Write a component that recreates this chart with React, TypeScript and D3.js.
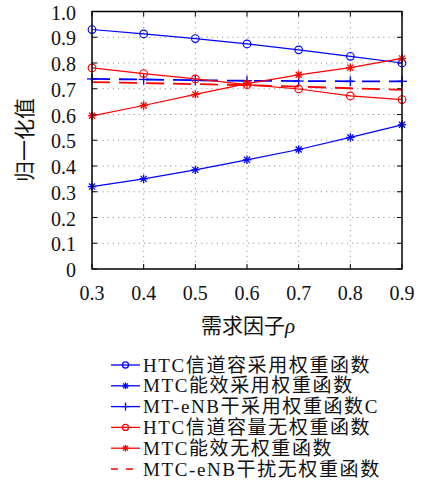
import React from "react";
import * as d3 from "d3";

const rho = [0.3, 0.4, 0.5, 0.6, 0.7, 0.8, 0.9];
const htcWeighted = [0.93, 0.913, 0.895, 0.874, 0.851, 0.826, 0.8];
const mtcWeighted = [0.32, 0.35, 0.385, 0.424, 0.464, 0.511, 0.56];
const enbWeighted = [0.738, 0.736, 0.733, 0.731, 0.73, 0.729, 0.729];
const htcNoWeight = [0.781, 0.759, 0.738, 0.716, 0.699, 0.672, 0.658];
const mtcNoWeight = [0.595, 0.635, 0.678, 0.72, 0.754, 0.782, 0.818];
const enbNoWeight = [0.726, 0.722, 0.718, 0.714, 0.708, 0.702, 0.696];

const xTicks = [0.3, 0.4, 0.5, 0.6, 0.7, 0.8, 0.9];
const yTicks = [0, 0.1, 0.2, 0.3, 0.4, 0.5, 0.6, 0.7, 0.8, 0.9, 1.0];
const yTickLabels = ["0", "0.1", "0.2", "0.3", "0.4", "0.5", "0.6", "0.7", "0.8", "0.9", "1.0"];

const legendLabels = [
  "HTC信道容采用权重函数",
  "MTC能效采用权重函数",
  "MT-eNB干采用权重函数C",
  "HTC信道容量无权重函数",
  "MTC能效无权重函数",
  "MTC-eNB干扰无权重函数",
];

const BLUE = "#0000ff";
const RED = "#ff0000";
const FONT = "'Liberation Serif', 'Noto Sans CJK SC', serif";

type Marker = "circle" | "star" | "plus" | "none";
interface Series {
  values: number[];
  color: string;
  marker: Marker;
  dashed: boolean;
}

const series: Series[] = [
  { values: htcWeighted, color: BLUE, marker: "circle", dashed: false },
  { values: mtcWeighted, color: BLUE, marker: "star", dashed: false },
  { values: enbWeighted, color: BLUE, marker: "plus", dashed: true },
  { values: htcNoWeight, color: RED, marker: "circle", dashed: false },
  { values: mtcNoWeight, color: RED, marker: "star", dashed: false },
  { values: enbNoWeight, color: RED, marker: "none", dashed: true },
];

function MarkerShape({ type, x, y, color, s = 1 }: { type: Marker; x: number; y: number; color: string; s?: number }) {
  if (type === "circle") {
    return <circle cx={x} cy={y} r={3.8 * s} fill="none" stroke={color} strokeWidth={1.2} />;
  }
  if (type === "star") {
    const r = 4.2 * s;
    const d = r * 0.72;
    return (
      <g stroke={color} strokeWidth={1.3}>
        <line x1={x - r} y1={y} x2={x + r} y2={y} />
        <line x1={x} y1={y - r} x2={x} y2={y + r} />
        <line x1={x - d} y1={y - d} x2={x + d} y2={y + d} />
        <line x1={x - d} y1={y + d} x2={x + d} y2={y - d} />
      </g>
    );
  }
  if (type === "plus") {
    const r = 5 * s;
    return (
      <g stroke={color} strokeWidth={1.3}>
        <line x1={x - r} y1={y} x2={x + r} y2={y} />
        <line x1={x} y1={y - r} x2={x} y2={y + r} />
      </g>
    );
  }
  return null;
}

export default function App() {
  const W = 422;
  const H = 484;
  const left = 92, right = 402, top = 11.5, bottom = 269;
  const x = d3.scaleLinear().domain([0.3, 0.9]).range([left, right]);
  const y = d3.scaleLinear().domain([0, 1]).range([bottom, top]);
  const line = d3
    .line<number>()
    .x((_, i) => x(rho[i]))
    .y((d) => y(d));

  const legendX0 = 111;
  const legendX1 = 140;
  const legendTextX = 143;
  const legendY0 = 365;
  const legendDy = 20.8;

  return (
    <div style={{ position: "absolute", left: 0, top: 0 }}>
      <svg width={W} height={H} style={{ display: "block", background: "#fff" }}>
        <rect x={0} y={0} width={W} height={H} fill="#fff" />
        {/* grid */}
        <g stroke="#8a8a8a" strokeWidth={0.9} strokeDasharray="1.2 4">
          {xTicks.slice(1, -1).map((t) => (
            <line key={"gx" + t} x1={x(t)} x2={x(t)} y1={top} y2={bottom} />
          ))}
          {yTicks.slice(1, -1).map((t) => (
            <line key={"gy" + t} x1={left} x2={right} y1={y(t)} y2={y(t)} />
          ))}
        </g>
        {/* ticks */}
        <g stroke="#000" strokeWidth={1}>
          {yTicks.map((t) => (
            <g key={"ty" + t}>
              <line x1={left} x2={left + 5} y1={y(t)} y2={y(t)} />
              <line x1={right} x2={right - 5} y1={y(t)} y2={y(t)} />
            </g>
          ))}
          {xTicks.map((t) => (
            <g key={"tx" + t}>
              <line x1={x(t)} x2={x(t)} y1={bottom} y2={bottom - 5} />
              <line x1={x(t)} x2={x(t)} y1={top} y2={top + 5} />
            </g>
          ))}
        </g>
        {/* series */}
        {series.map((s, i) => (
          <g key={"s" + i}>
            <path
              d={line(s.values) || ""}
              fill="none"
              stroke={s.color}
              strokeWidth={s.dashed ? 1.8 : 1.2}
              strokeDasharray={s.dashed ? "18 9" : undefined}
            />
            {s.values.map((v, j) => (
              <MarkerShape key={j} type={s.marker} x={x(rho[j])} y={y(v)} color={s.color} />
            ))}
          </g>
        ))}
        {/* box */}
        <rect x={left} y={top} width={right - left} height={bottom - top} fill="none" stroke="#000" strokeWidth={1.5} />
        {/* tick labels */}
        <g fontFamily={FONT} fontSize={20} fill="#111">
          {yTicks.map((t, i) => (
            <text key={"ly" + t} x={76} y={y(t) + 3.5} textAnchor="end" dominantBaseline="middle">
              {yTickLabels[i]}
            </text>
          ))}
          {xTicks.map((t) => (
            <text key={"lx" + t} x={x(t)} y={300} textAnchor="middle">
              {d3.format(".1f")(t)}
            </text>
          ))}
        </g>
        {/* axis titles */}
        <text x={248} y={333} textAnchor="middle" fontFamily={FONT} fontSize={21} fill="#111">
          需求因子<tspan fontStyle="italic">ρ</tspan>
        </text>
        <text
          transform={`translate(27,140) rotate(-90)`}
          textAnchor="middle"
          dominantBaseline="middle"
          fontFamily={FONT}
          fontSize={21}
          fill="#111"
        >
          归一化值
        </text>
        {/* legend */}
        {series.map((s, i) => {
          const ly = legendY0 + i * legendDy;
          return (
            <g key={"lg" + i}>
              <line
                x1={legendX0}
                x2={legendX1}
                y1={ly}
                y2={ly}
                stroke={s.color}
                strokeWidth={1.3}
                strokeDasharray={s.marker === "none" ? "7 8" : undefined}
              />
              <MarkerShape type={s.marker} x={(legendX0 + legendX1) / 2} y={ly} color={s.color} s={0.8} />
              <text x={legendTextX} y={ly + 6.5} fontFamily={FONT} fontSize={19} letterSpacing={1.6} fill="#111">
                {legendLabels[i]}
              </text>
            </g>
          );
        })}
      </svg>
    </div>
  );
}
